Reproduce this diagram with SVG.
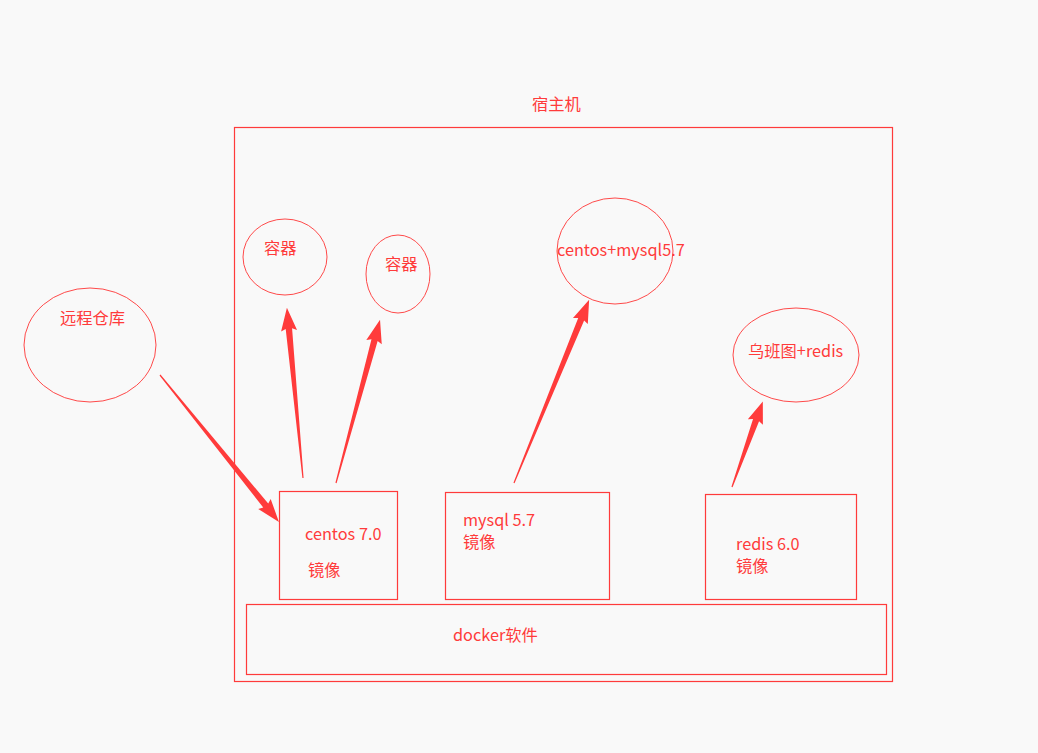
<svg xmlns="http://www.w3.org/2000/svg" width="1038" height="753" viewBox="0 0 1038 753">
<style>
.box{fill:none;stroke:#ff3b3b;stroke-width:1.2}
.ell{fill:none;stroke:#ff4a4a;stroke-width:1}
.t{font-family:"Noto Sans CJK SC","Liberation Sans",sans-serif;font-size:16.3px;fill:#ff3b3b}
.arr{fill:#ff3b3b}
</style>
<rect width="1038" height="753" fill="#f9f9f9"/>
<g id="host">
<rect class="box" x="234.5" y="127.5" width="658" height="554"/>
<text class="t" x="532" y="110">宿主机</text>
</g>
<g id="docker">
<rect class="box" x="246.5" y="604.5" width="640" height="70"/>
<text class="t" x="453" y="641">docker软件</text>
</g>
<g id="centos">
<rect class="box" x="279.5" y="491.5" width="118" height="108"/>
<text class="t" x="305" y="540">centos 7.0</text>
<text class="t" x="308" y="576">镜像</text>
</g>
<g id="mysql">
<rect class="box" x="445.5" y="492.5" width="164" height="107"/>
<text class="t" x="463" y="526">mysql 5.7</text>
<text class="t" x="463" y="548">镜像</text>
</g>
<g id="redis">
<rect class="box" x="705.5" y="494.5" width="151" height="105"/>
<text class="t" x="736" y="550">redis 6.0</text>
<text class="t" x="736" y="572">镜像</text>
</g>
<g id="remote">
<ellipse class="ell" cx="90" cy="345" rx="66" ry="57"/>
<text class="t" x="60" y="324">远程仓库</text>
</g>
<g id="container1">
<ellipse class="ell" cx="285" cy="257" rx="42" ry="38"/>
<text class="t" x="264" y="254">容器</text>
</g>
<g id="container2">
<ellipse class="ell" cx="398" cy="274" rx="32" ry="39"/>
<text class="t" x="385" y="270">容器</text>
</g>
<g id="centosmysql">
<ellipse class="ell" cx="615" cy="251" rx="58" ry="53"/>
<text class="t" x="557" y="256">centos+mysql5.7</text>
</g>
<g id="ubuntuRedis">
<ellipse class="ell" cx="796" cy="355" rx="63" ry="47"/>
<text class="t" x="748" y="357">乌班图+redis</text>
</g>
<g id="connectors">
<polygon class="arr" transform="translate(160,375) rotate(51)" points="0,0.6 168,3.2 166,8 189,0 166,-8 168,-3.2 0,-0.6"/>
<polygon class="arr" transform="translate(303,478) rotate(-95.4)" points="0,0.6 150,3.2 148,8 171,0 148,-8 150,-3.2 0,-0.6"/>
<polygon class="arr" transform="translate(336,483) rotate(-74.9)" points="0,0.6 148,3.2 146,8 169,0 146,-8 148,-3.2 0,-0.6"/>
<polygon class="arr" transform="translate(514,483) rotate(-67.7)" points="0,0.6 177,3.2 175,8 198,0 175,-8 177,-3.2 0,-0.6"/>
<polygon class="arr" transform="translate(732,487) rotate(-70.2)" points="0,0.6 71,3.2 69,8 91,0 69,-8 71,-3.2 0,-0.6"/>
</g>
</svg>
